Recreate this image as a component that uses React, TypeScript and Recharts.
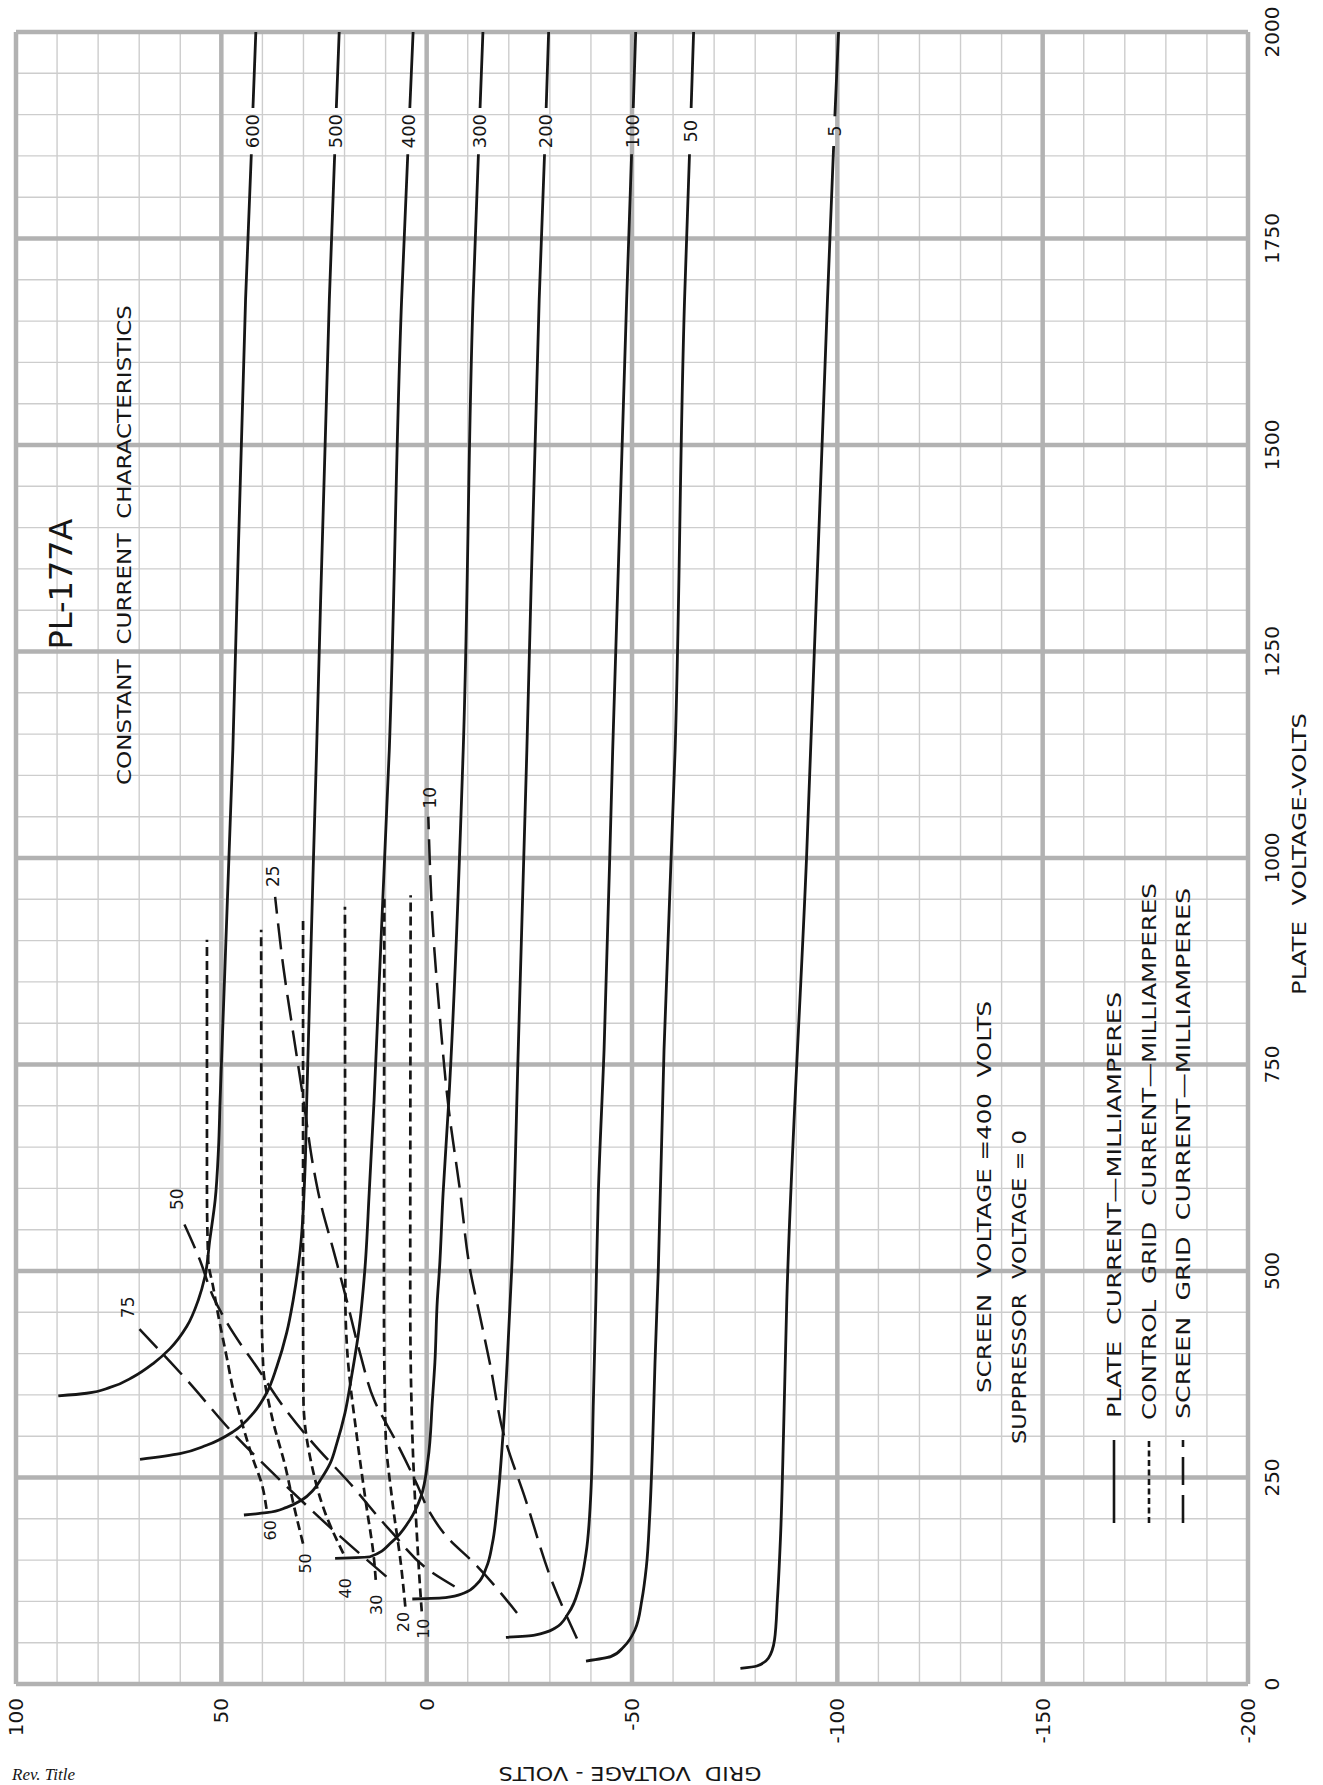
import React from 'react';
import { ComposedChart, Line, XAxis, YAxis, ReferenceLine, ReferenceDot } from 'recharts';

type Pt = [number, number | null];

const FONT = '"DejaVu Sans", "Liberation Sans", Arial, sans-serif';
const INK = '#161616';
const MAJOR = '#b2b2b2';
const MINOR = '#cdcdcd';

// axis ticks
const plateTicks = [0, 250, 500, 750, 1000, 1250, 1500, 1750, 2000];
const gridTicks = [-200, -150, -100, -50, 0, 50, 100];
const plateMinor = [50, 100, 150, 200, 300, 350, 400, 450, 550, 600, 650, 700, 800, 850, 900, 950, 1050, 1100, 1150, 1200, 1300, 1350, 1400, 1450, 1550, 1600, 1650, 1700, 1800, 1850, 1900, 1950];
const gridMinor = [-190, -180, -170, -160, -140, -130, -120, -110, -90, -80, -70, -60, -40, -30, -20, -10, 10, 20, 30, 40, 60, 70, 80, 90];

// plate current (solid) : [plate volts, grid volts]; null = gap for the label
const ip600: Pt[] = [[348.7, 89.7], [352, 82.8], [359, 77.1], [372, 71.4], [388, 66.6], [406, 62.5], [433, 58.4], [465, 55.6], [493, 54.0], [538, 52.8], [586, 51.5], [647, 50.7], [707, 50.3], [1131, 47.2], [1676, 44.1], [1852, 42.7], [1880, null], [1908, 42.3], [2000, 41.6]];
const ip500: Pt[] = [[272, 69.8], [279, 60.1], [289, 53.6], [305.5, 47.1], [328, 42.2], [352, 39.0], [384, 36.5], [425, 34.1], [465, 32.5], [525, 30.8], [626, 29.6], [707, 29.2], [1131, 26.8], [1676, 23.7], [1852, 22.4], [1880, null], [1908, 22.0], [2000, 21.3]];
const ip400: Pt[] = [[204.6, 44.5], [207.4, 39.0], [213.9, 34.1], [222.8, 30.4], [234.9, 27.6], [249, 25.6], [267, 23.5], [291, 21.9], [328, 19.9], [372, 18.3], [425, 16.6], [505, 15.0], [594, 14.0], [707, 12.8], [1131, 9.1], [1676, 6.1], [1852, 4.6], [1880, null], [1908, 4.1], [2000, 3.3]];
const ip300: Pt[] = [[152.2, 22.3], [154.1, 13.8], [172.3, 8.4], [198.6, 4.1], [226.8, 1.4], [271, -0.3], [344, -1.4], [389, -2.0], [465, -2.6], [501, -3.1], [594, -4.0], [699, -5.3], [1131, -8.9], [1676, -11.3], [1852, -12.6], [1880, null], [1908, -13.0], [2000, -13.7]];
const ip200: Pt[] = [[102.9, 3.5], [104.5, -4.6], [109.8, -9.0], [121.9, -12.4], [142, -14.6], [170, -16.0], [223, -17.3], [303, -18.6], [389, -19.6], [501, -20.7], [768, -22.3], [1131, -24.4], [1676, -27.4], [1852, -28.7], [1880, null], [1908, -29.1], [2000, -29.7]];
const ip100: Pt[] = [[56.5, -19.3], [59.3, -26.3], [67.4, -31.2], [85.6, -34.5], [117.8, -37.2], [158, -38.8], [223, -39.9], [344, -40.6], [465, -41.2], [594, -41.8], [768, -43.2], [1131, -45.3], [1676, -48.7], [1852, -49.9], [1880, null], [1908, -50.3], [2000, -50.9]];
const ip50: Pt[] = [[27.8, -38.8], [33.1, -44.8], [45.2, -48.0], [65.4, -50.7], [101.7, -52.4], [142, -53.5], [202.5, -54.3], [303.5, -55.1], [389, -55.6], [501, -56.4], [768, -57.8], [1131, -60.5], [1676, -62.8], [1852, -64.0], [1880, null], [1908, -64.4], [2000, -65.0]];
const ip5: Pt[] = [[19, -76.4], [21.8, -80.4], [31.1, -83.2], [53.3, -84.7], [101.7, -85.4], [182.4, -86.2], [303.5, -86.9], [465, -87.7], [1000, -92.5], [1676, -97.6], [1862, -99.1], [1880, null], [1898, -99.4], [2000, -100.3]];

// control grid current (short dashes)
const ig60: Pt[] = [[212, 39.0], [243, 40.2], [271, 42.2], [311.5, 44.7], [356, 47.1], [396, 48.7], [445, 50.7], [481, 52.0], [513, 53.2], [600, 53.5], [901, 53.5]];
const ig50: Pt[] = [[170, 30.1], [215, 32.3], [263, 34.4], [324, 37.7], [384, 39.8], [465, 40.2], [913, 40.3]];
const ig40: Pt[] = [[158, 20.3], [207, 24.7], [263, 27.9], [344, 30.0], [465, 30.1], [929, 30.1]];
const ig30: Pt[] = [[126, 12.4], [150, 12.8], [223, 14.9], [303.5, 17.1], [400, 19.3], [465, 19.8], [941, 19.9]];
const ig20: Pt[] = [[93.6, 5.2], [142, 6.2], [223, 8.4], [303.5, 10.0], [465, 10.4], [953, 10.3]];
const ig10: Pt[] = [[88, 1.2], [101.7, 1.4], [182.4, 2.4], [303.5, 3.5], [465, 4.0], [955, 3.9]];

// screen grid current (long dashes)
const is75: Pt[] = [[130, 9.8], [186, 22.7], [243, 34.9], [303.5, 47.1], [368, 58.4], [433, 70.6]];
const is50: Pt[] = [[118, -6.8], [134, -1.6], [186, 8.9], [243, 18.7], [291, 27.6], [336, 34.9], [384, 41.4], [425, 47.1], [469, 52.0], [513, 55.2], [564, 59.7]];
const is25: Pt[] = [[86, -22.0], [150, -10.8], [175, -5.5], [210, -0.5], [240, 2.2], [295, 7.6], [344, 12.8], [400, 16.2], [465, 19.5], [525, 22.7], [586, 26.0], [626, 27.6], [707, 30.0], [788, 32.5], [868, 34.9], [953, 36.9]];
const is10: Pt[] = [[55, -36.6], [122, -30.7], [223, -24.1], [303.5, -18.7], [388, -15.4], [445, -13.0], [501, -10.6], [598, -8.1], [699, -5.3], [808, -3.2], [909, -1.6], [1050, -0.4]];

const plateCurves = [ip600, ip500, ip400, ip300, ip200, ip100, ip50, ip5];
const controlCurves = [ig60, ig50, ig40, ig30, ig20, ig10];
const screenCurves = [is75, is50, is25, is10];

// curve labels: [text, plate, grid]
const plateLabels: [string, number, number][] = [['600', 1880, 42.5], ['500', 1880, 22.2], ['400', 1880, 4.35], ['300', 1880, -12.8], ['200', 1880, -28.9], ['100', 1880, -50.1], ['50', 1880, -64.2], ['5', 1880, -99.25]];
const controlLabels: [string, number, number][] = [['60', 186, 38.2], ['50', 146, 29.6], ['40', 116, 19.8], ['30', 96, 12.2], ['20', 75, 5.7], ['10', 67, 0.8]];
const screenLabels: [string, number, number][] = [['75', 456, 72.7], ['50', 587, 60.8], ['25', 978, 37.5], ['10', 1073, -0.8]];

const toRows = (pts: Pt[]) => pts.map(([p, g]) => ({ p, g }));

const labelShape = (text: string, size: number) => (props: any) => (
  <text x={props.cx} y={props.cy} dy="0.36em" textAnchor="middle" fontFamily={FONT} fontSize={size} fill={INK}>
    {text}
  </text>
);

const T = (props: { x: number; yc: number; size: number; len?: number; anchor?: string; children: string }) => (
  <text
    x={props.x}
    y={props.yc + props.size * 0.365}
    fontFamily={FONT}
    fontSize={props.size}
    fill={INK}
    textAnchor={props.anchor || 'start'}
    textLength={props.len}
    lengthAdjust="spacingAndGlyphs"
    style={{ whiteSpace: 'pre' }}
  >
    {props.children}
  </text>
);

export default function App() {
  return (
    <div style={{ position: 'absolute', left: 0, top: 0, width: 1323, height: 1785, overflow: 'hidden', background: '#fff' }}>
      <div
        style={{
          position: 'absolute',
          left: 0,
          top: 0,
          width: 1785,
          height: 1323,
          transformOrigin: '0 0',
          transform: 'translate(0px, 1785px) rotate(-90deg)',
        }}
      >
        <ComposedChart width={1785} height={1323} margin={{ top: 16, right: 32, bottom: 35, left: 21 }}>
          <XAxis
            type="number"
            dataKey="p"
            domain={[0, 2000]}
            ticks={plateTicks}
            interval={0}
            height={40}
            tickLine={false}
            axisLine={false}
            tickSize={0}
            tickMargin={17}
            tick={{ fontSize: 20, fill: INK, fontFamily: FONT }}
            allowDataOverflow
          />
          <YAxis
            type="number"
            dataKey="g"
            domain={[-200, 100]}
            ticks={gridTicks}
            interval={0}
            width={80}
            tickLine={false}
            axisLine={false}
            tickSize={0}
            tickMargin={14}
            tick={{ fontSize: 20, fill: INK, fontFamily: FONT }}
            allowDataOverflow
          />
          {gridMinor.map((v) => (
            <ReferenceLine key={'gm' + v} y={v} stroke={MINOR} strokeWidth={1.4} />
          ))}
          {plateMinor.map((v) => (
            <ReferenceLine key={'pm' + v} x={v} stroke={MINOR} strokeWidth={1.4} />
          ))}
          {gridTicks.map((v) => (
            <ReferenceLine key={'gM' + v} y={v} stroke={MAJOR} strokeWidth={4.5} />
          ))}
          {plateTicks.map((v) => (
            <ReferenceLine key={'pM' + v} x={v} stroke={MAJOR} strokeWidth={4.5} />
          ))}
          {plateCurves.map((c, i) => (
            <Line key={'ip' + i} data={toRows(c)} dataKey="g" type="monotone" stroke={INK} strokeWidth={2.8} dot={false} activeDot={false} isAnimationActive={false} connectNulls={false} />
          ))}
          {controlCurves.map((c, i) => (
            <Line key={'ig' + i} data={toRows(c)} dataKey="g" type="monotone" stroke={INK} strokeWidth={2.7} strokeDasharray="9 5" dot={false} activeDot={false} isAnimationActive={false} />
          ))}
          {screenCurves.map((c, i) => (
            <Line key={'is' + i} data={toRows(c)} dataKey="g" type="monotone" stroke={INK} strokeWidth={2.5} strokeDasharray="26 10" dot={false} activeDot={false} isAnimationActive={false} />
          ))}
          {plateLabels.map(([t, p, g]) => (
            <ReferenceDot key={'pl' + t} x={p} y={g} r={0} shape={labelShape(t, 18)} />
          ))}
          {controlLabels.map(([t, p, g]) => (
            <ReferenceDot key={'cl' + t} x={p} y={g} r={0} shape={labelShape(t, 16)} />
          ))}
          {screenLabels.map(([t, p, g]) => (
            <ReferenceDot key={'sl' + t} x={p} y={g} r={0} shape={labelShape(t, 17)} />
          ))}
        </ComposedChart>
        <svg width={1785} height={1323} style={{ position: 'absolute', left: 0, top: 0, pointerEvents: 'none' }}>
          <T x={1201} yc={60} size={32} len={131} anchor="middle">PL-177A</T>
          <T x={1240} yc={124} size={20} len={480} anchor="middle">{'CONSTANT  CURRENT  CHARACTERISTICS'}</T>
          <T x={392} yc={984} size={20} len={392}>{'SCREEN  VOLTAGE =400  VOLTS'}</T>
          <T x={341} yc={1019} size={20} len={314}>{'SUPPRESSOR  VOLTAGE = 0'}</T>
          <T x={367} yc={1114} size={20} len={426}>{'PLATE  CURRENT\u2014MILLIAMPERES'}</T>
          <T x={365} yc={1149} size={20} len={537}>{'CONTROL  GRID  CURRENT\u2014MILLIAMPERES'}</T>
          <T x={366} yc={1183} size={20} len={531}>{'SCREEN  GRID  CURRENT\u2014MILLIAMPERES'}</T>
          <line x1={262} x2={345} y1={1114} y2={1114} stroke={INK} strokeWidth={2.6} />
          <line x1={262} x2={345} y1={1149} y2={1149} stroke={INK} strokeWidth={2.6} strokeDasharray="6 3.5" />
          <line x1={262} x2={345} y1={1183} y2={1183} stroke={INK} strokeWidth={2.6} strokeDasharray="28 10" />
          <T x={790} yc={1299} size={20} len={282}>{'PLATE  VOLTAGE-VOLTS'}</T>
          <g transform="translate(11,630) rotate(-90)">
            <text x={0} y={0} dy="0.36em" fontFamily={FONT} fontSize={20} fill={INK} textAnchor="middle" textLength={263} lengthAdjust="spacingAndGlyphs" style={{ whiteSpace: 'pre' }}>
              {'GRID  VOLTAGE - VOLTS'}
            </text>
          </g>
        </svg>
      </div>
      <svg width={300} height={25} style={{ position: 'absolute', left: 0, top: 1760 }}>
        <text x={12} y={20} fontFamily='"Liberation Serif", serif' fontStyle="italic" fontSize={17} fill={INK}>
          Rev. Title
        </text>
      </svg>
    </div>
  );
}
